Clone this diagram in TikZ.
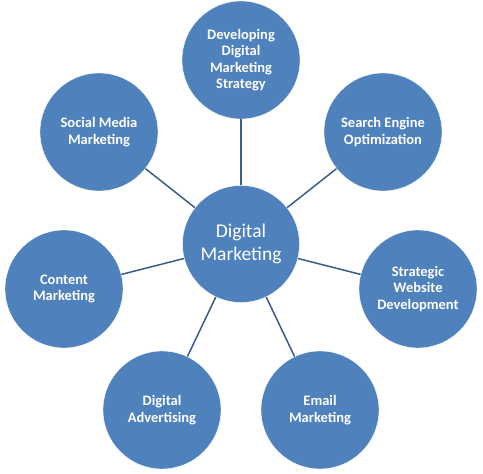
\documentclass[tikz,border=0pt]{standalone}
\usepackage{fontspec}
\setmainfont{Carlito}
\usepackage{tikz}
\usetikzlibrary{positioning}
\definecolor{topicblue}{RGB}{79,129,189}
\definecolor{spokeblue}{RGB}{56,93,138}

\begin{document}
\begin{tikzpicture} [x=1pt, y=-1pt,
  every node/.style={circle, fill=topicblue, draw=white, thin, text=white, align=center, inner sep=0pt},
  topic/.style={minimum size=118pt, font=\fontsize{14.5}{16.5}\selectfont\bfseries},
  hub/.style={minimum size=117pt, font=\fontsize{19.5}{23}\selectfont},
  spoke/.style={spokeblue, line width=1.5pt}]

\useasboundingbox (0,0) rectangle (483,474);

\node [hub] (dm) at (241,244) {Digital\\Marketing};

\node [topic] (strategy) at (241,60) {Developing\\Digital\\Marketing\\Strategy};
\node [topic] (seo) at (383,132) {Search Engine\\Optimization};
\node [topic] (web) at (418,289) {Strategic\\Website\\Development};
\node [topic] (email) at (320,410) {Email\\Marketing};
\node [topic] (ads) at (162,410) {Digital\\Advertising};
\node [topic] (content) at (64,289) {Content\\Marketing};
\node [topic] (social) at (99,132) {Social Media\\Marketing};

\foreach \t in {strategy,seo,web,email,ads,content,social}
  \draw [spoke] (dm) -- (\t);
\end{tikzpicture}
\end{document}
